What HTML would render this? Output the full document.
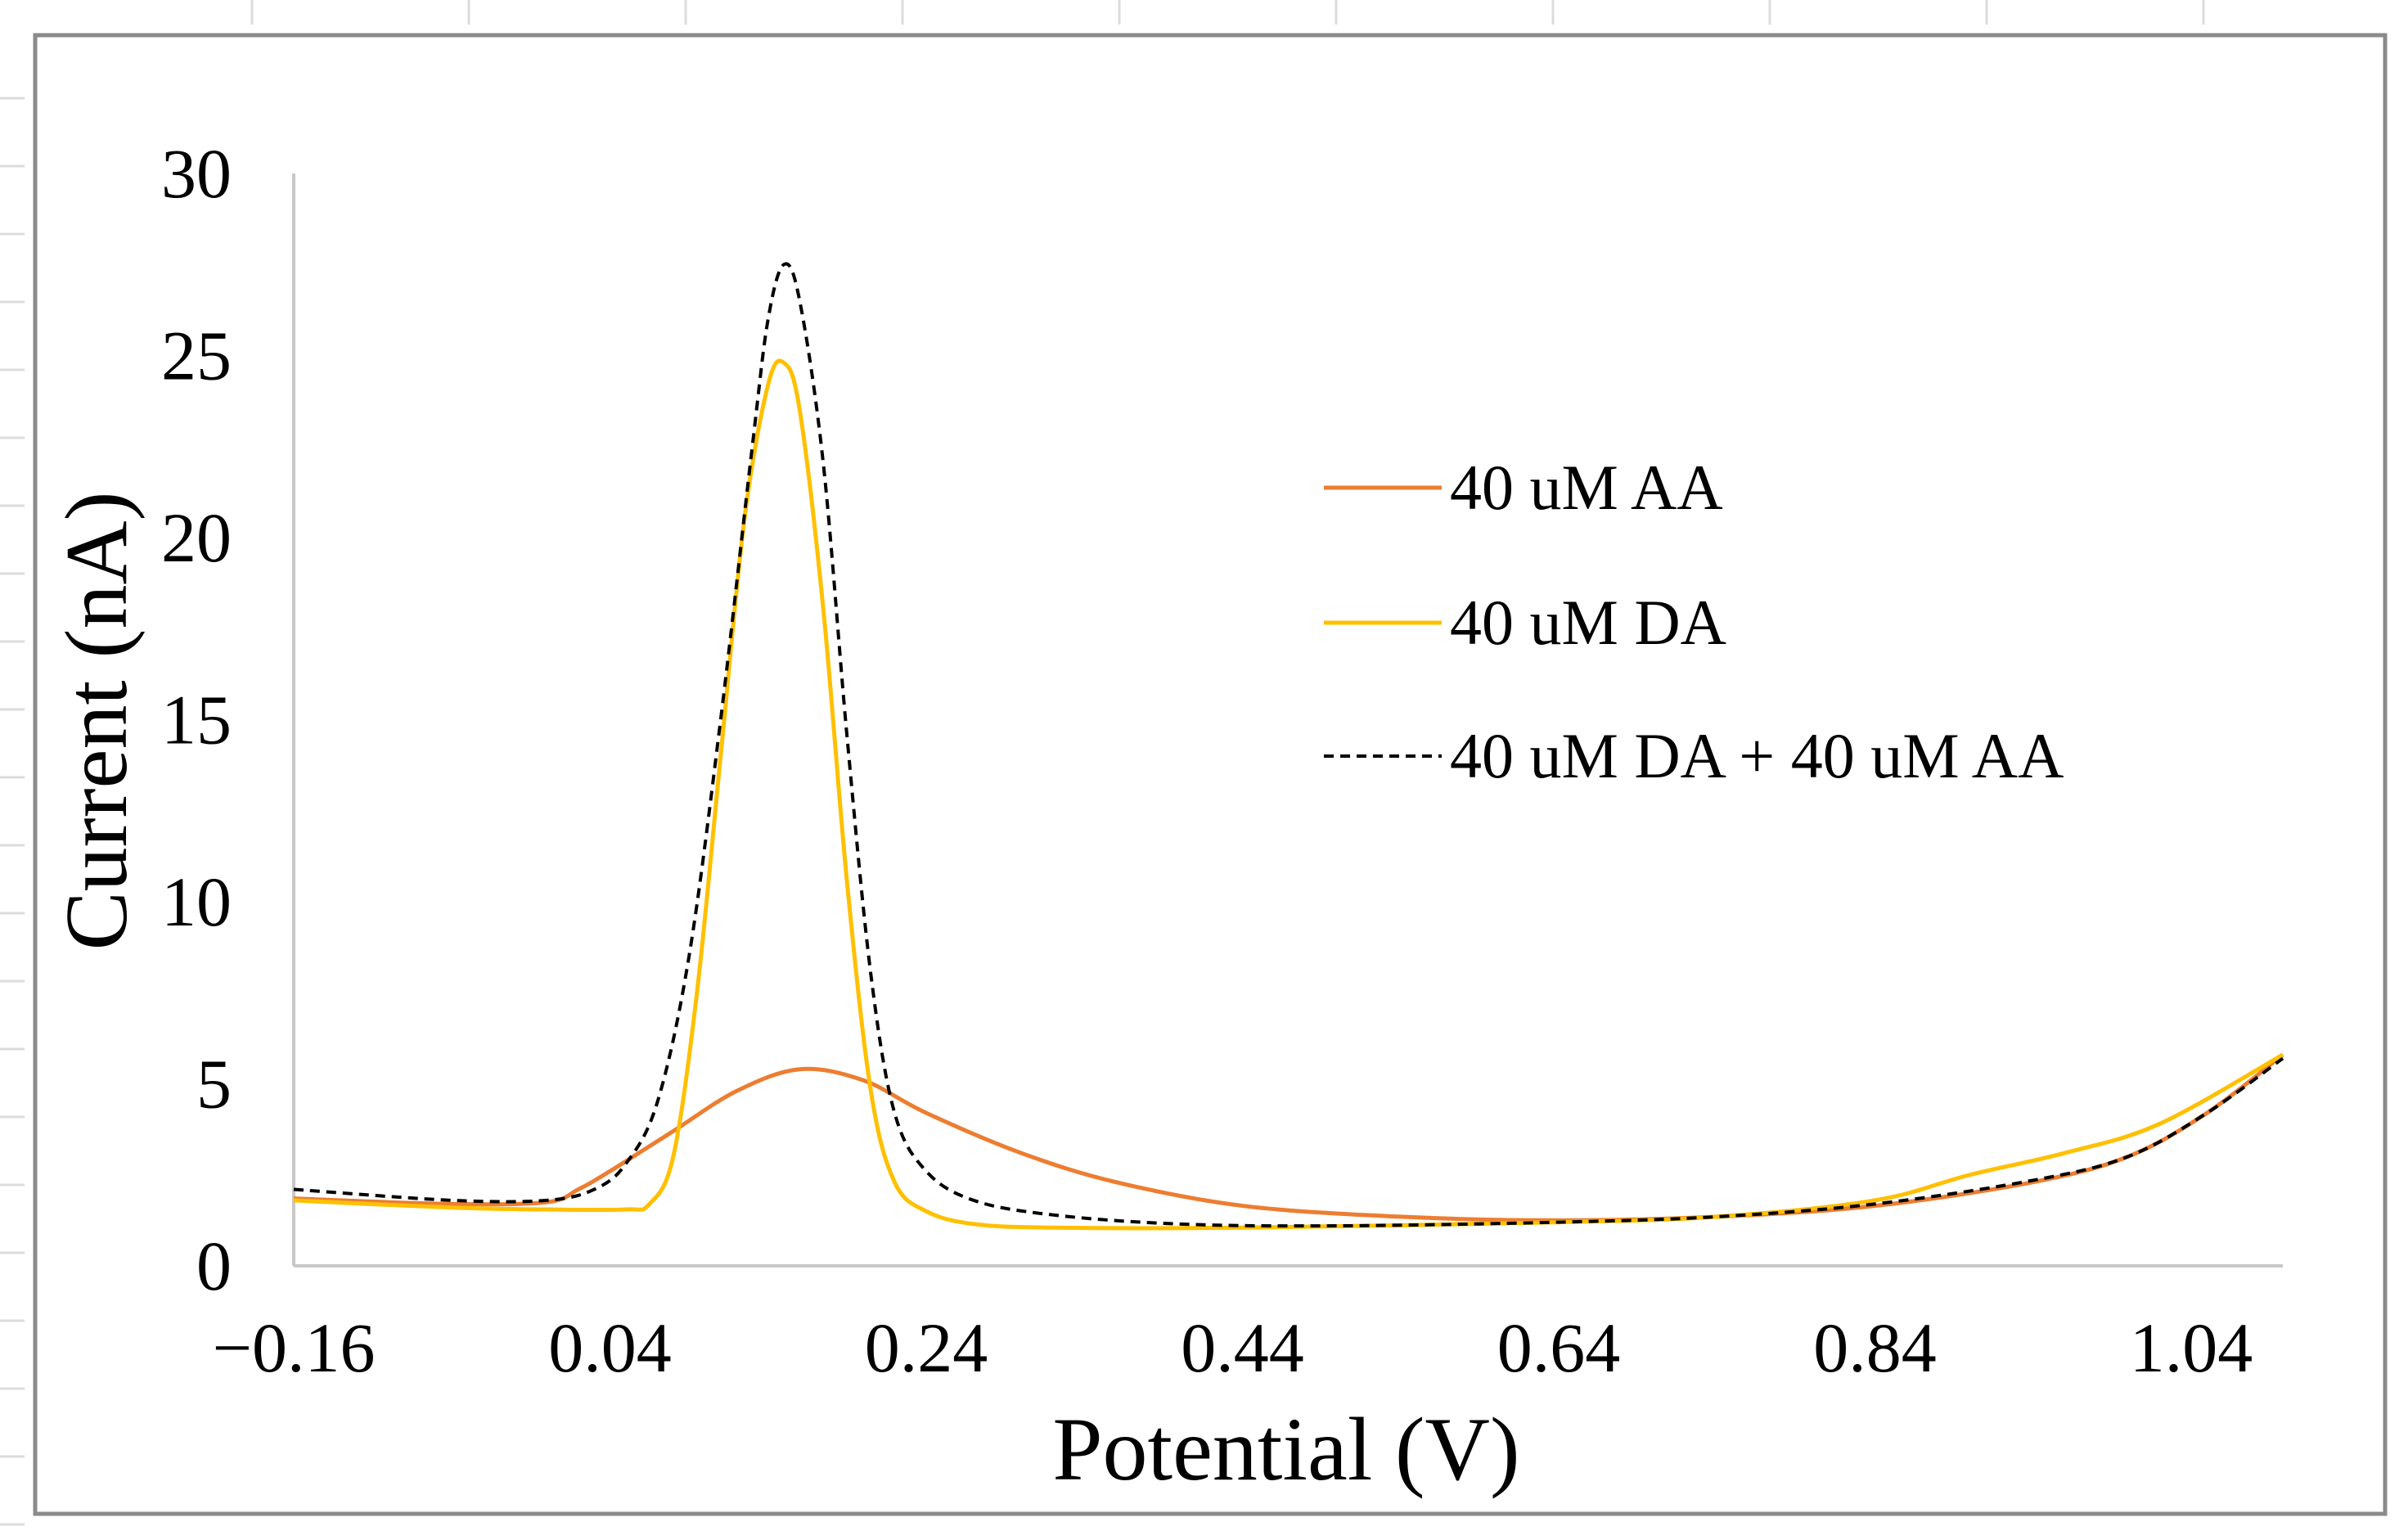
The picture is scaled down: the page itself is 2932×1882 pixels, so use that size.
<!DOCTYPE html>
<html><head><meta charset="utf-8">
<style>
html,body{margin:0;padding:0;background:#fff;}
svg{display:block;}
text{font-family:"Liberation Serif","Times New Roman",serif;fill:#000;}
</style></head>
<body>
<svg id="chart" width="2932" height="1882" viewBox="0 0 2932 1882" xmlns="http://www.w3.org/2000/svg">
<g id="sheet-grid"></g>
<rect x="43" y="43" width="2872" height="1807" fill="#fff" stroke="#8a8a8a" stroke-width="5"/>
<g id="axes"></g>
<g id="series"></g>
<text x="1572" y="1808" font-size="110" text-anchor="middle">Potential (V)</text>
<text transform="translate(154,881) rotate(-90)" font-size="108" text-anchor="middle">Current (nA)</text>
<g>
  <line x1="1618" y1="596" x2="1762" y2="596" stroke="#ED7D31" stroke-width="5"/>
  <text x="1772" y="622" font-size="78">40 uM AA</text>
  <line x1="1618" y1="761" x2="1762" y2="761" stroke="#FFC000" stroke-width="5"/>
  <text x="1772" y="787" font-size="78">40 uM DA</text>
  <line x1="1618" y1="924" x2="1762" y2="924" stroke="#000" stroke-width="4" stroke-dasharray="12,8"/>
  <text x="1772" y="950" font-size="78">40 uM DA + 40 uM AA</text>
</g>
</svg>
<script>
const xTicks = [-0.16, 0.04, 0.24, 0.44, 0.64, 0.84, 1.04];
const xTickLabels = ["\u22120.16","0.04","0.24","0.44","0.64","0.84","1.04"];
const yTicks = [0,5,10,15,20,25,30];
const potentialAA  = [-0.16,-0.06,0.0,0.02,0.04,0.08,0.12,0.16,0.2,0.24,0.3,0.36,0.44,0.54,0.64,0.74,0.84,0.94,1.0,1.05,1.098];
const currentAA    = [1.85,1.7,1.75,2.1,2.6,3.7,4.8,5.4,5.1,4.2,3.1,2.3,1.65,1.35,1.25,1.35,1.65,2.3,3.0,4.2,5.8];
const potentialDA  = [-0.16,-0.06,0.0,0.05,0.065,0.08,0.095,0.11,0.125,0.14,0.15,0.16,0.175,0.19,0.205,0.22,0.24,0.27,0.32,0.44,0.64,0.74,0.84,0.9,0.96,1.02,1.098];
const currentDA    = [1.8,1.6,1.55,1.55,1.7,3.0,7.5,14,20.5,24.2,24.8,23.5,18,10.5,4.8,2.3,1.5,1.15,1.05,1.05,1.2,1.35,1.8,2.5,3.1,3.9,5.8];
const potentialMix = [-0.16,-0.06,0.0,0.03,0.05,0.07,0.09,0.11,0.13,0.14,0.15,0.16,0.175,0.19,0.205,0.22,0.24,0.27,0.32,0.4,0.5,0.64,0.74,0.84,0.94,1.0,1.05,1.098];
const currentMix   = [2.1,1.8,1.8,2.1,2.8,4.5,8.5,15,22.5,26,27.5,26.5,22,14.5,8,4.2,2.6,1.8,1.4,1.15,1.1,1.2,1.35,1.7,2.35,3.0,4.2,5.7];

const X0=359, X1=2678, XV0=-0.16, XV1=1.04, XEND=2790;
const Y0=1547, Y1=212, YV0=0, YV1=30;
const sx=v=>X0+(v-XV0)/(XV1-XV0)*(X1-X0);
const sy=v=>Y0-(v-YV0)/(YV1-YV0)*(Y0-Y1);
const NS="http://www.w3.org/2000/svg";
function mk(tag,attrs,parent){const e=document.createElementNS(NS,tag);for(const k in attrs)e.setAttribute(k,attrs[k]);parent.appendChild(e);return e;}

const sg=document.getElementById('sheet-grid');
for(let i=0;i<11;i++){const x=308+i*265;const l=mk('line',{x1:x,y1:0,x2:x,y2:30,stroke:'#dcdcdc','stroke-width':3},sg);

}
for(let i=0;i<22;i++){const y=120+i*83;const l=mk('line',{x1:0,y1:y,x2:30,y2:y,stroke:'#dcdcdc','stroke-width':3},sg);

}

const ax=document.getElementById('axes');
const ya=mk('line',{x1:X0,y1:Y1,x2:X0,y2:Y0,stroke:'#c8c8c8','stroke-width':4},ax);


const xa=mk('line',{x1:X0,y1:Y0,x2:XEND,y2:Y0,stroke:'#c8c8c8','stroke-width':4},ax);


xTicks.forEach((v,i)=>{const t=mk('text',{x:sx(v),y:1676,'font-size':86,'text-anchor':'middle'},ax);t.textContent=xTickLabels[i];

});
yTicks.forEach(v=>{const t=mk('text',{x:283,y:sy(v)+29,'font-size':86,'text-anchor':'end'},ax);t.textContent=String(v);

});

function smooth(xs,ys){const p=xs.map((x,i)=>[sx(x),sy(ys[i])]);let d='M'+p[0][0]+','+p[0][1];
for(let i=0;i<p.length-1;i++){const a=p[i-1]||p[i],b=p[i],c=p[i+1],e=p[i+2]||c;
const c1=[b[0]+(c[0]-a[0])/6,b[1]+(c[1]-a[1])/6],c2=[c[0]-(e[0]-b[0])/6,c[1]-(e[1]-b[1])/6];
d+=' C'+c1[0]+','+c1[1]+' '+c2[0]+','+c2[1]+' '+c[0]+','+c[1];}return d;}
const sg2=document.getElementById('series');
const pa=mk('path',{d:smooth(potentialAA,currentAA),fill:'none',stroke:'#ED7D31','stroke-width':5},sg2);


const pd=mk('path',{d:smooth(potentialDA,currentDA),fill:'none',stroke:'#FFC000','stroke-width':5},sg2);


const pm=mk('path',{d:smooth(potentialMix,currentMix),fill:'none',stroke:'#000','stroke-width':4,'stroke-dasharray':'12,8'},sg2);


</script>
</body></html>
